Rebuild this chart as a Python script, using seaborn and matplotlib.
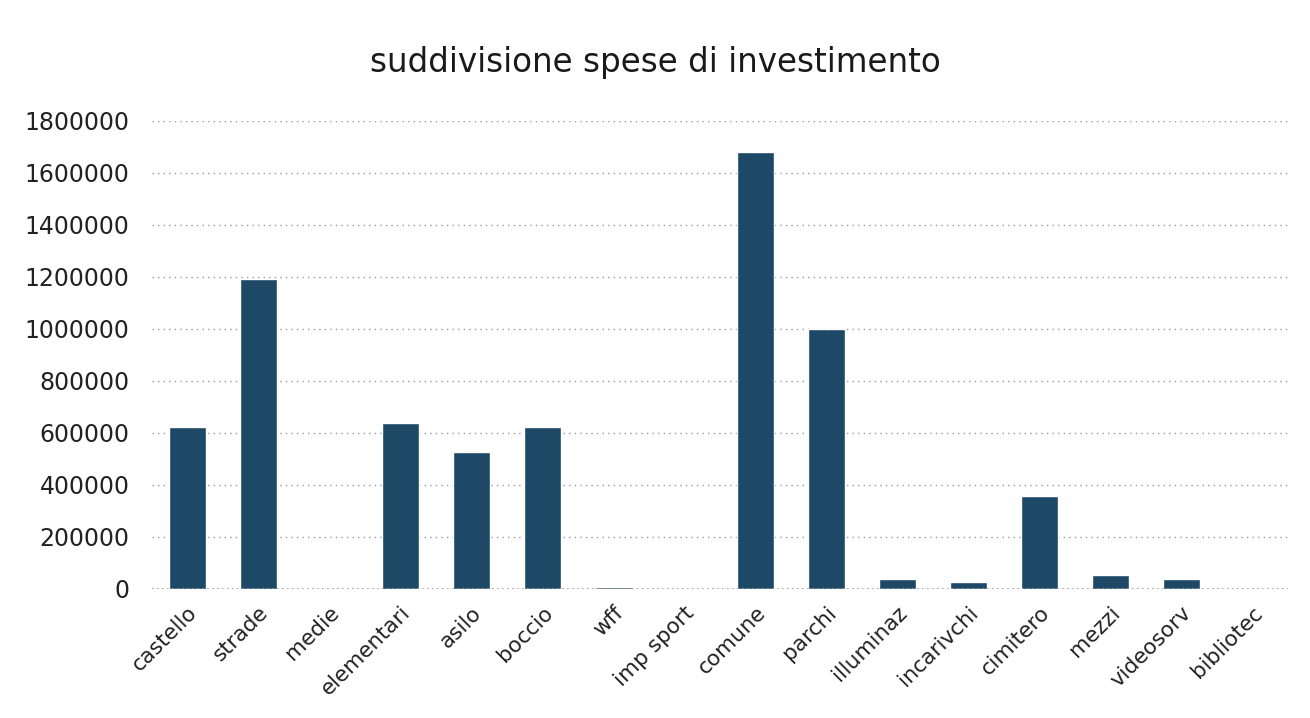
import matplotlib
matplotlib.use("Agg")
import matplotlib.pyplot as plt
import seaborn as sns
import pandas as pd

categories = ["castello", "strade", "medie", "elementari", "asilo", "boccio", "wff",
              "imp sport", "comune", "parchi", "illuminaz", "incarivchi", "cimitero",
              "mezzi", "videosorv", "bibliotec"]
values = [622000, 1192000, 0, 638000, 527000, 622000, 6000,
          0, 1680000, 1000000, 38000, 27000, 358000,
          54000, 38000, 0]
yticks = [0, 200000, 400000, 600000, 800000, 1000000, 1200000, 1400000, 1600000, 1800000]
title = "suddivisione spese di investimento"

sns.set_theme(style="white")
plt.rcParams['font.family'] = ['DejaVu Sans']

df = pd.DataFrame({"cat": categories, "val": values})

fig = plt.figure(figsize=(13.1, 7.18), dpi=100)
ax = fig.add_axes([0.116, 0.18, 0.867, 0.6515])
sns.barplot(data=df, x="cat", y="val", color="#1d4866", width=0.52,
            saturation=1, ax=ax, zorder=3)

ax.set_ylim(0, 1800000)
ax.set_yticks(yticks)
ax.set_yticklabels([str(v) for v in yticks], fontsize=17, color="#222222")
ax.set_xlim(-0.5, len(categories) - 0.5)
ax.set_xlabel("")
ax.set_ylabel("")
ax.tick_params(axis="x", length=0, pad=10)
ax.tick_params(axis="y", length=0, pad=16)
for lbl in ax.get_xticklabels():
    lbl.set_rotation(45)
    lbl.set_ha("right")
    lbl.set_rotation_mode("anchor")
    lbl.set_fontsize(15.5)
    lbl.set_color("#222222")

ax.yaxis.grid(True, linestyle=(0, (1, 3)), color="#999999", linewidth=1, zorder=0)
ax.xaxis.grid(False)
for s in ax.spines.values():
    s.set_visible(False)
ax.axhline(0, color="#999999", linestyle=(0, (1, 2)), linewidth=1.2, zorder=4)

fig.text(0.5, 0.913, title, ha="center", va="center", fontsize=23.5, color="#1a1a1a")

fig.savefig("out.png", dpi=100, facecolor="white")
